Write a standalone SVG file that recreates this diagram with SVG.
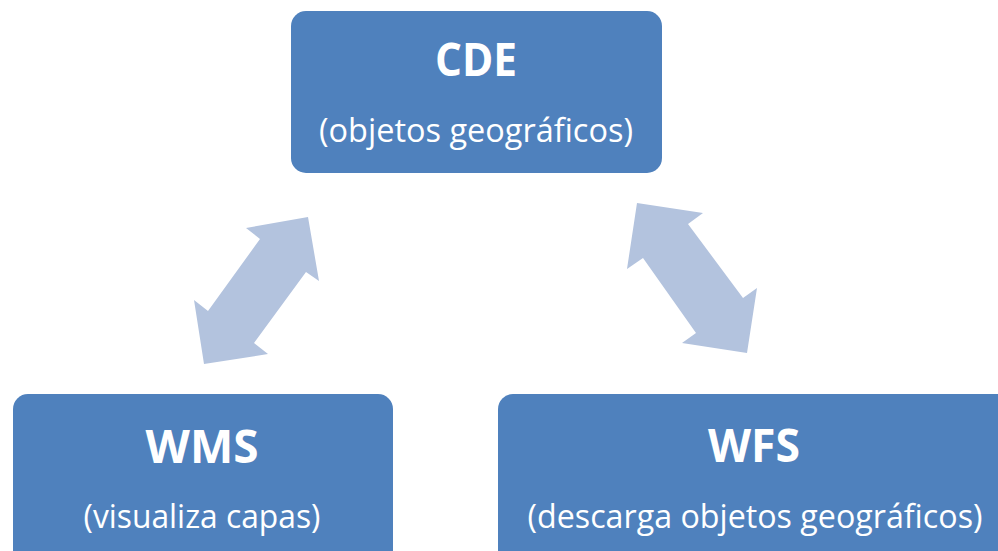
<svg xmlns="http://www.w3.org/2000/svg" width="998" height="551" viewBox="0 0 998 551">
<style>
.box{fill:#4F81BD;}
.arrow{fill:#B3C3DE;}
.t{font-family:"Open Sans","Noto Sans",sans-serif;font-weight:bold;font-size:47px;fill:#FFFFFF;text-anchor:middle;}
.s{font-family:"Open Sans","Noto Sans",sans-serif;font-size:32px;fill:#FFFFFF;text-anchor:middle;}
</style>
<rect width="998" height="551" fill="#FFFFFF"/>
<g id="connectors">
<polygon class="arrow" points="308,217 246,228 260,239 208,311 194,300 204,364 268,354 254,343 306,272 319,281"/>
<polygon class="arrow" points="637,203 703,213 688,224 743,298 757,288 747,353 682,343 696,333 643,258 627,269"/>
</g>
<g id="cde">
<rect class="box" x="291" y="11" width="371" height="162" rx="15" ry="15"/>
<text class="t" x="476" y="76" textLength="82" lengthAdjust="spacingAndGlyphs">CDE</text>
<text class="s" x="476" y="142" textLength="314" lengthAdjust="spacingAndGlyphs">(objetos geográficos)</text>
</g>
<g id="wms">
<rect class="box" x="13" y="394" width="380" height="180" rx="15" ry="15"/>
<text class="t" x="202" y="463" textLength="113" lengthAdjust="spacingAndGlyphs">WMS</text>
<text class="s" x="202" y="528" textLength="237" lengthAdjust="spacingAndGlyphs">(visualiza capas)</text>
</g>
<g id="wfs">
<rect class="box" x="498" y="394" width="520" height="180" rx="15" ry="15"/>
<text class="t" x="754" y="462" textLength="92" lengthAdjust="spacingAndGlyphs">WFS</text>
<text class="s" x="755" y="528" textLength="455" lengthAdjust="spacingAndGlyphs">(descarga objetos geográficos)</text>
</g>
</svg>
